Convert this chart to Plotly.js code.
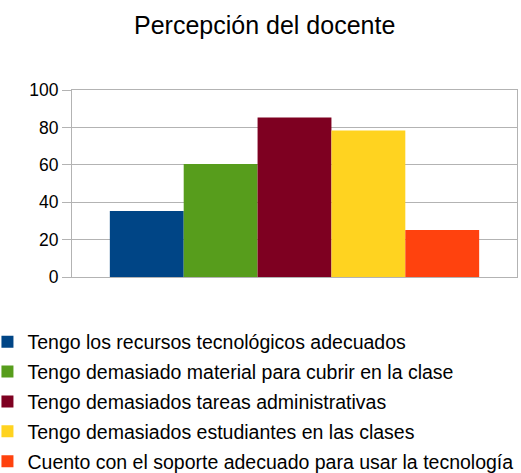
<!DOCTYPE html>
<html><head><meta charset="utf-8">
<script src="https://cdn.plot.ly/plotly-3.0.1.min.js"></script>
<style>body{margin:0;padding:0;}#chart{width:521px;height:473px;}</style>
</head><body><div id="chart"></div>
<script>
const seriesNames = [
  "Tengo los recursos tecnológicos adecuados",
  "Tengo demasiado material para cubrir en la clase",
  "Tengo demasiados tareas administrativas",
  "Tengo demasiados estudiantes en las clases",
  "Cuento con el soporte adecuado para usar la tecnología"
];
const seriesValues = [35.3, 60.4, 85.3, 78.3, 25.1];
const seriesColors = ["#004586", "#579d1c", "#7e0021", "#ffd320", "#ff420e"];
const category = [""];

const traces = seriesNames.map((n, i) => ({
  type: "bar",
  name: n,
  x: category,
  y: [seriesValues[i]],
  marker: {color: seriesColors[i], line: {width: 0}},
  legendgroup: "g" + i,
  hoverinfo: "name+y"
}));

const layout = {
  width: 521, height: 473,
  margin: {l: 72, r: 4, t: 90, b: 196, autoexpand: false},
  paper_bgcolor: "#ffffff", plot_bgcolor: "#ffffff",
  font: {family: "Liberation Sans, Arial, sans-serif", color: "#000000", size: 17},
  title: {text: "Percepción del docente", font: {size: 25, color: "#000"}, x: 0.508, xref: "container", y: 0.947, yref: "container", yanchor: "middle"},
  barmode: "group",
  bargap: 0.17,
  bargroupgap: 0,
  xaxis: {showticklabels: false, ticks: "", showgrid: false, showline: true, linecolor: "#b3b3b3", linewidth: 1, mirror: true, zeroline: false},
  yaxis: {range: [0, 100], dtick: 20, tick0: 0, ticks: "outside", ticklen: 9, tickcolor: "#b3b3b3", showgrid: true, gridcolor: "#b3b3b3", gridwidth: 1, showline: true, linecolor: "#b3b3b3", mirror: true, zeroline: false, tickfont: {size: 17.5, color: "#000"}, ticklabelstandoff: 0},
  showlegend: true,
  legend: {xref: "paper", yref: "container", x: -0.19, y: 0.318, xanchor: "left", yanchor: "top", font: {size: 19.5, color: "#000"}, tracegroupgap: 1.5, traceorder: "grouped", itemwidth: 30, bgcolor: "rgba(0,0,0,0)"}
};

Plotly.newPlot("chart", traces, layout, {displayModeBar: false, staticPlot: true});
</script></body></html>
